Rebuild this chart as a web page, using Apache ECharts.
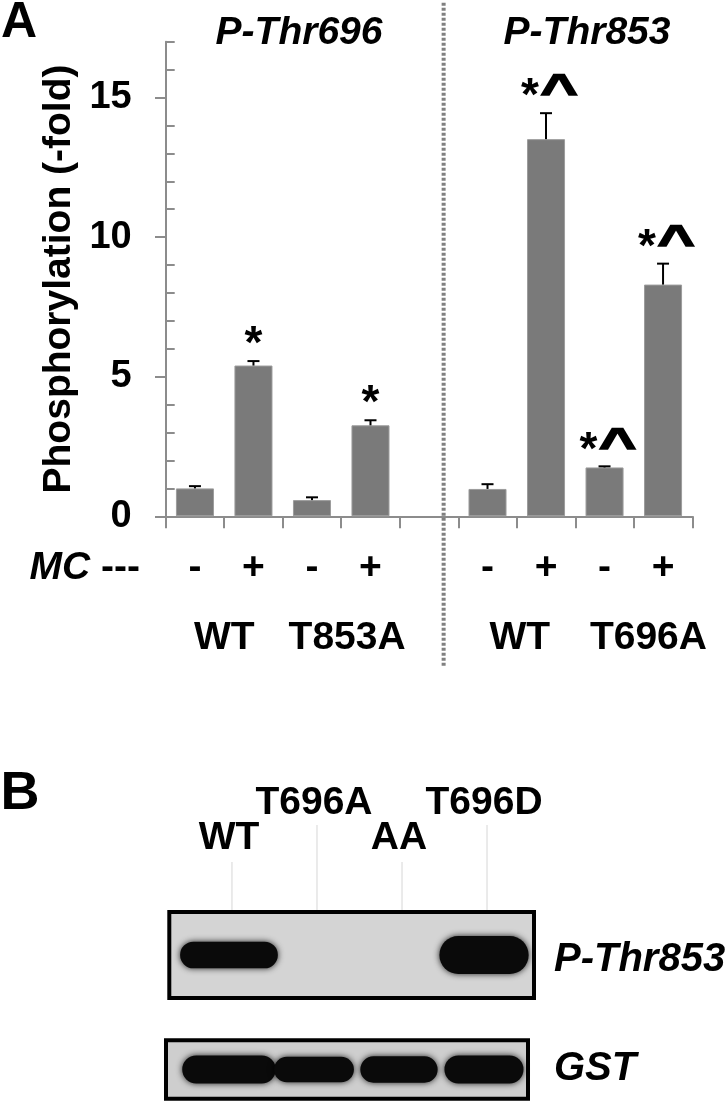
<!DOCTYPE html>
<html>
<head>
<meta charset="utf-8">
<script src="https://cdn.jsdelivr.net/npm/echarts@6/dist/echarts.min.js"></script>
<style>html,body{margin:0;padding:0;background:#fff}#c{width:726px;height:1101px}</style>
</head>
<body>
<div id="c"></div>
<script>
// ---------- data ----------
const categories = ['-', '+', '-', '+', '', '-', '+', '-', '+'];
const values = [1.00, 5.40, 0.58, 3.26, null, 0.98, 13.51, 1.75, 8.30];
const errors = [0.08, 0.16, 0.10, 0.18, null, 0.17, 0.93, 0.04, 0.75];
const marks = ['', '*', '', '*', '', '', '*^', '*^', '*^'];
const groupNames = ['WT', 'T853A', 'WT', 'T696A'];
const groupCenters = [1, 3.1, 6.05, 8.25];
const separatorAt = 4.75;
const yTicks = [0, 5, 10, 15];
const yMinorTicks = [1, 2, 3, 4, 6, 7, 8, 9, 11, 12, 13, 14, 16, 17];
const yMax = 17;
const panelTitles = ['P-Thr696', 'P-Thr853'];
const lanes = ['WT', 'T696A', 'AA', 'T696D'];
const pThr853Signal = [0.31, 0, 0, 0.44];
const pThr853Spread = [1.15, 0, 0, 1.05];
const gstSignal = [0.48, 0.44, 0.45, 0.48];
const gstSpread = [1.10, 0.94, 0.91, 0.93];
const blotNames = ['P-Thr853', 'GST'];

// ---------- styles ----------
const FF = '"Liberation Sans", Arial, Helvetica, sans-serif';
const AXIS_GREY = '#8c8c8c';
const BAR_GREY = '#7a7a7a';

const chart = echarts.init(document.getElementById('c'), null, {renderer: 'canvas'});

const barItems = [];
values.forEach((v, i) => { if (v != null) barItems.push([i, v, errors[i]]); });

function bandRender(signal, spread) {
  return function (params, api) {
    const i = api.value(0);
    const s = signal[i], w = spread[i];
    if (!s) return null;
    const c = api.coord([i, 0.5]);
    const sz = api.size([w, s]);
    const h = sz[1], wd = sz[0];
    return {
      type: 'rect',
      shape: {x: c[0] - wd / 2, y: c[1] - h / 2, width: wd, height: h, r: h / 2},
      style: {fill: '#0a0a0a', shadowBlur: 6, shadowColor: 'rgba(0,0,0,0.85)'}
    };
  };
}

function markText(ch, x, y, extra) {
  return Object.assign({type: 'text', x: x, y: y,
    style: {text: ch, font: 'bold 46px ' + FF, fill: '#000', stroke: '#000', lineWidth: ch === '^' ? 1.5 : 0,
      align: 'center', verticalAlign: 'middle'}}, extra || {});
}

const option = {
  animation: false,
  backgroundColor: '#fff',
  grid: [
    {left: 165.7, top: 41.7, width: 526.6, height: 474.6, outerBoundsMode: 'none'},
    {left: 169.3, top: 912, width: 364.7, height: 86, show: true, borderColor: '#000', borderWidth: 4, backgroundColor: '#d4d4d4', outerBoundsMode: 'none'},
    {left: 166, top: 1040.3, width: 362, height: 58.4, show: true, borderColor: '#000', borderWidth: 4, backgroundColor: '#cecece', outerBoundsMode: 'none'}
  ],
  xAxis: [
    {
      gridIndex: 0, type: 'category', data: categories, position: 'bottom',
      axisLine: {lineStyle: {color: AXIS_GREY, width: 2}},
      axisTick: {show: true, length: 12, lineStyle: {color: AXIS_GREY, width: 2}},
      axisLabel: {interval: 0, margin: 32, color: '#000', fontFamily: FF, fontWeight: 'bold', fontSize: 39},
      splitLine: {show: false}
    },
    {
      gridIndex: 0, type: 'value', min: 0, max: categories.length, position: 'bottom',
      axisLine: {show: false}, axisTick: {show: false}, splitLine: {show: false},
      axisLabel: {
        customValues: groupCenters, margin: 102, color: '#000', fontFamily: FF, fontWeight: 'bold', fontSize: 39,
        formatter: function (v) {
          const k = groupCenters.findIndex(c => Math.abs(c - v) < 1e-6);
          return k >= 0 ? groupNames[k] : '';
        }
      }
    },
    {gridIndex: 1, type: 'value', min: -0.702, max: 3.588, show: false},
    {gridIndex: 2, type: 'value', min: -0.741, max: 3.518, show: false}
  ],
  yAxis: [
    {
      gridIndex: 0, type: 'value', min: 0, max: yMax, position: 'left',
      name: 'Phosphorylation (-fold)', nameLocation: 'middle', nameRotate: 90, nameGap: 83,
      nameTextStyle: {color: '#000', fontFamily: FF, fontWeight: 'bold', fontSize: 39},
      axisLine: {show: true, lineStyle: {color: AXIS_GREY, width: 2}},
      axisTick: {show: true, customValues: yTicks, length: 10.7, lineStyle: {color: AXIS_GREY, width: 2}},
      axisLabel: {customValues: yTicks, margin: 34, color: '#000', fontFamily: FF, fontWeight: 'bold', fontSize: 38},
      splitLine: {show: false}
    },
    {
      gridIndex: 0, type: 'value', min: 0, max: yMax, position: 'left',
      axisLine: {show: false},
      axisTick: {show: true, inside: true, customValues: yMinorTicks, length: 9, lineStyle: {color: AXIS_GREY, width: 2}},
      axisLabel: {show: false}, splitLine: {show: false}
    },
    {gridIndex: 1, type: 'value', min: 0, max: 1, show: false},
    {gridIndex: 2, type: 'value', min: 0, max: 1, show: false}
  ],
  series: [
    {
      type: 'custom', xAxisIndex: 1, yAxisIndex: 0, z: 1,
      data: [[separatorAt, 0]],
      renderItem: function (params, api) {
        const x = api.coord([api.value(0), 0])[0];
        const yTop = api.coord([0, yMax])[1] - 39;
        const yBot = api.coord([0, 0])[1] + 150;
        return {type: 'line', shape: {x1: x, y1: yTop, x2: x, y2: yBot},
          style: {stroke: '#808080', lineWidth: 4, lineDash: [3, 2]}};
      }
    },
    {
      type: 'bar', xAxisIndex: 0, yAxisIndex: 0, data: values, barCategoryGap: '35%', z: 2,
      itemStyle: {color: BAR_GREY, borderColor: '#9c9c9c', borderWidth: 1}
    },
    {
      type: 'custom', xAxisIndex: 0, yAxisIndex: 0, z: 3,
      data: barItems,
      renderItem: function (params, api) {
        const i = api.value(0), v = api.value(1), e = api.value(2);
        const base = api.coord([i, v]);
        const top = api.coord([i, v + e]);
        const cap = 6;
        const children = [
          {type: 'line', shape: {x1: base[0], y1: base[1], x2: top[0], y2: top[1]}, style: {stroke: '#000', lineWidth: 2}},
          {type: 'line', shape: {x1: top[0] - cap, y1: top[1], x2: top[0] + cap, y2: top[1]}, style: {stroke: '#000', lineWidth: 2}}
        ];
        const m = marks[i];
        if (m === '*') {
          children.push(markText('*', top[0], top[1] - 15.5));
        } else if (m) {
          children.push(markText(m[0], top[0] - 16, top[1] - 15.5));
          children.push(markText(m[1], top[0] + 13, top[1] - 18.4, {scaleX: 1.4}));
        }
        return {type: 'group', children: children};
      }
    },
    {
      type: 'custom', xAxisIndex: 2, yAxisIndex: 2, z: 3,
      data: lanes.map((l, i) => [i, 1]),
      renderItem: function (params, api) {
        const i = api.value(0);
        const p = api.coord([i, 1]);
        const boxTop = p[1] - 2;
        const high = i % 2 === 1;
        const lineTop = boxTop - (high ? 85 : 48);
        const labelY = boxTop - (high ? 107 : 72);
        return {type: 'group', children: [
          {type: 'line', shape: {x1: p[0] + 3, y1: lineTop, x2: p[0] + 3, y2: boxTop}, style: {stroke: '#d6d6d6', lineWidth: 1}},
          {type: 'text', x: p[0], y: labelY,
            style: {text: lanes[i], font: 'bold 39px ' + FF, fill: '#000', align: 'center', verticalAlign: 'middle'}}
        ]};
      }
    },
    {
      type: 'custom', xAxisIndex: 2, yAxisIndex: 2, z: 2,
      data: lanes.map((l, i) => [i, pThr853Signal[i]]),
      renderItem: bandRender(pThr853Signal, pThr853Spread)
    },
    {
      type: 'custom', xAxisIndex: 3, yAxisIndex: 3, z: 2,
      data: lanes.map((l, i) => [i, gstSignal[i]]),
      renderItem: bandRender(gstSignal, gstSpread)
    }
  ],
  graphic: [
    {type: 'text', x: 19, y: 23, style: {text: 'A', font: 'bold 50px ' + FF, fill: '#000', align: 'center', verticalAlign: 'middle'}},
    {type: 'text', x: 20, y: 794, style: {text: 'B', font: 'bold 54px ' + FF, fill: '#000', align: 'center', verticalAlign: 'middle'}},
    {type: 'text', x: 299, y: 33, style: {text: panelTitles[0], font: 'italic bold 39px ' + FF, fill: '#000', align: 'center', verticalAlign: 'middle'}},
    {type: 'text', x: 587, y: 33, style: {text: panelTitles[1], font: 'italic bold 39px ' + FF, fill: '#000', align: 'center', verticalAlign: 'middle'}},
    {type: 'text', x: 140, y: 568, style: {text: '{i|MC} ---', font: 'bold 39px ' + FF, fill: '#000', align: 'right', verticalAlign: 'middle',
      rich: {i: {fontStyle: 'italic', fontWeight: 'bold', fontSize: 39, fontFamily: FF}}}},
    {type: 'text', x: 554, y: 960, style: {text: blotNames[0], font: 'italic bold 40px ' + FF, fill: '#000', align: 'left', verticalAlign: 'middle'}},
    {type: 'text', x: 554, y: 1069, style: {text: blotNames[1], font: 'italic bold 40px ' + FF, fill: '#000', align: 'left', verticalAlign: 'middle'}}
  ]
};
chart.setOption(option);
</script>
</body>
</html>
